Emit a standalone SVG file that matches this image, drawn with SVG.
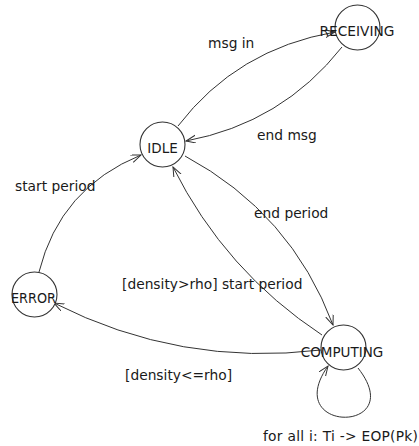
<svg xmlns="http://www.w3.org/2000/svg" width="419" height="446" viewBox="0 0 419 446">
<style>
.bg{fill:#ffffff}
.edge{fill:none;stroke:#333333;stroke-width:1}
.node{fill:#ffffff;stroke:#333333;stroke-width:1.1}
.nlabel{font-family:"DejaVu Sans","Liberation Sans",sans-serif;font-size:13.5px;fill:#1a1a1a;text-anchor:middle}
.elabel{font-family:"DejaVu Sans","Liberation Sans",sans-serif;font-size:13.8px;fill:#1a1a1a}
</style>
<defs>
<marker id="arr" markerWidth="12" markerHeight="10" refX="10" refY="4" orient="auto" markerUnits="userSpaceOnUse">
<path d="M0,0 L10,4 L0,8" fill="none" stroke="#333333" stroke-width="1"/>
</marker>
</defs>
<rect class="bg" x="0" y="0" width="419" height="446"/>
<g id="connectors">
<path class="edge" d="M178,126 Q237,49 335,32" marker-end="url(#arr)"/>
<path class="edge" d="M342,47 Q282,123 186,141" marker-end="url(#arr)"/>
<path class="edge" d="M185,156 Q291,213 333,325" marker-end="url(#arr)"/>
<path class="edge" d="M322,335 Q225,271 173,167" marker-end="url(#arr)"/>
<path class="edge" d="M39,272 Q60,188 141,155" marker-end="url(#arr)"/>
<path class="edge" d="M321,350 Q180,367 54,303" marker-end="url(#arr)"/>
<path class="edge" d="M358,368 C410,434 280,434 328,366" marker-end="url(#arr)"/>
</g>
<g id="node-receiving">
<circle class="node" cx="357.5" cy="27.5" r="22.5"/>
<text class="nlabel" x="357" y="36" textLength="75" lengthAdjust="spacingAndGlyphs">RECEIVING</text>
</g>
<g id="node-idle">
<circle class="node" cx="162.5" cy="144.5" r="22.5"/>
<text class="nlabel" x="162.5" y="153">IDLE</text>
</g>
<g id="node-error">
<circle class="node" cx="34.5" cy="294.5" r="22.5"/>
<text class="nlabel" x="33.5" y="303" textLength="45" lengthAdjust="spacingAndGlyphs">ERROR</text>
</g>
<g id="node-computing">
<circle class="node" cx="343.5" cy="347.5" r="22.5"/>
<text class="nlabel" x="342" y="357">COMPUTING</text>
</g>
<g id="edge-labels">
<text class="elabel" x="208" y="48">msg in</text>
<text class="elabel" x="257" y="140">end msg</text>
<text class="elabel" x="15" y="191">start period</text>
<text class="elabel" x="254" y="218">end period</text>
<text class="elabel" x="122" y="289">[density&gt;rho] start period</text>
<text class="elabel" x="125" y="380">[density&lt;=rho]</text>
<text class="elabel" x="263" y="441" textLength="155" lengthAdjust="spacing">for all i: Ti -&gt; EOP(Pk)</text>
</g>
</svg>
